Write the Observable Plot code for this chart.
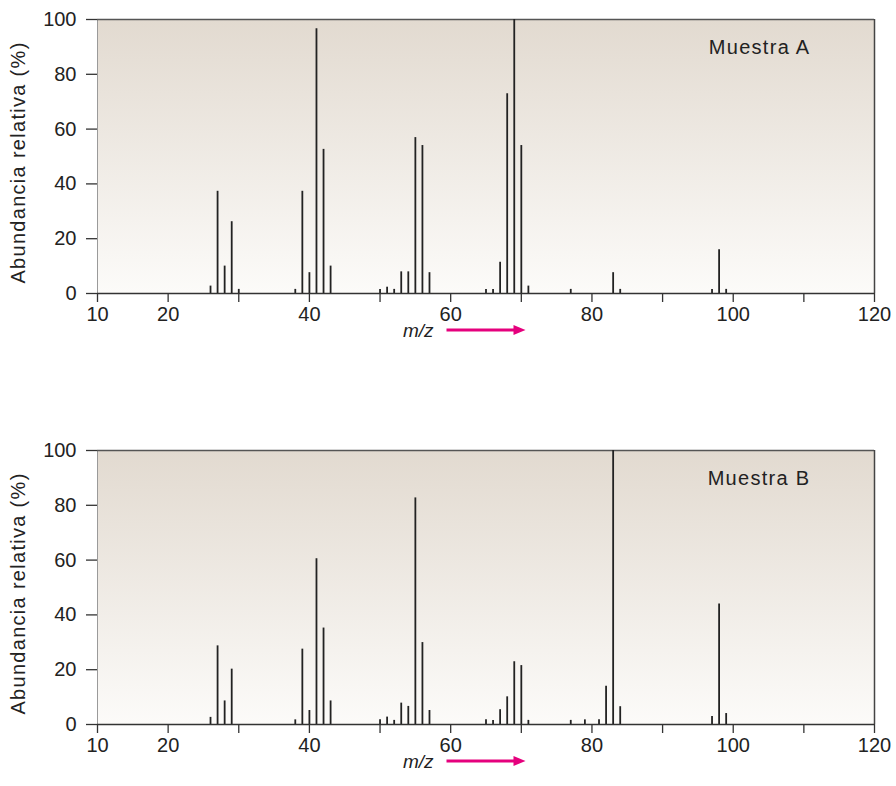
<!DOCTYPE html>
<html><head><meta charset="utf-8">
<script src="https://cdn.jsdelivr.net/npm/d3@7"></script>
<script src="https://cdn.jsdelivr.net/npm/@observablehq/plot@0.6"></script>
<style>
body{margin:0;background:#fff;width:896px;height:786px;position:relative;overflow:hidden;font-family:"Liberation Sans",Arial,sans-serif}
.panel{position:absolute;left:0}
</style></head><body>
<div id="a" class="panel" style="top:0"></div>
<div id="b" class="panel" style="top:431px"></div>
<script>
// Muestra A
const mzA = [26,27,28,29,30,38,39,40,41,42,43,50,51,52,53,54,55,56,57,65,66,67,68,69,70,71,77,83,84,97,98,99];
const abA = [2.7,37.3,10,26.2,1.5,1.5,37.3,7.6,96.6,52.6,10,1.5,2.3,1.5,7.9,7.9,56.9,54,7.6,1.5,1.5,11.4,72.9,100,54,2.7,1.5,7.6,1.5,1.5,16,1.5];
// Muestra B
const mzB = [26,27,28,29,38,39,40,41,42,43,50,51,52,53,54,55,56,57,65,66,67,68,69,70,71,77,79,81,82,83,84,97,98,99];
const abB = [2.6,28.7,8.6,20.2,1.7,27.5,5.1,60.5,35.2,8.6,1.7,2.7,1.5,7.8,6.6,82.7,29.9,5.1,1.7,1.5,5.4,10.1,22.9,21.5,1.5,1.5,1.7,1.7,14,100,6.5,2.9,44,4];

const xTicks = [10,20,30,40,50,60,70,80,90,100,110,120];
const xTickLabels = [10,20,40,60,80,100,120];
const yTicks = [0,20,40,60,80,100];
const yLabel = "Abundancia relativa (%)";
const xLabel = "m/z";
const names = ["Muestra A","Muestra B"];

function panel(id, mz, ab, name, height) {
  const data = mz.map((m, i) => ({mz: m, ab: ab[i]}));
  const gradId = "grad-" + id;
  const defs = () => {
    const s = d3.create("svg:defs");
    const g = s.append("linearGradient").attr("id", gradId)
      .attr("x1", 0).attr("y1", 0).attr("x2", 0).attr("y2", 1);
    g.append("stop").attr("offset", "0%").attr("stop-color", "#e2dad0");
    g.append("stop").attr("offset", "100%").attr("stop-color", "#fcfbf9");
    return s.node();
  };
  const mzMark = (index, scales, values, dims) => {
    const cx = (dims.marginLeft + dims.width - dims.marginRight) / 2;
    const y = dims.height - dims.marginBottom + 37;
    const g = d3.create("svg:g");
    g.append("text").attr("x", cx - 52).attr("y", y).attr("dy", "0.35em")
      .attr("text-anchor", "end").attr("font-style", "italic")
      .attr("font-size", 19).attr("fill", "#222").text(xLabel);
    const x0 = cx - 39, x1 = cx + 40;
    g.append("line").attr("x1", x0).attr("x2", x1 - 10).attr("y1", y).attr("y2", y)
      .attr("stroke", "#e5007d").attr("stroke-width", 3);
    g.append("path").attr("d", `M${x1},${y}L${x1 - 12},${y - 5}L${x1 - 12},${y + 5}Z`)
      .attr("fill", "#e5007d");
    return g.node();
  };
  const svg = Plot.plot({
    width: 896,
    height,
    marginTop: 19,
    marginLeft: 97,
    marginRight: 22,
    marginBottom: height - 19 - 274,
    style: {fontFamily: '"Liberation Sans", Arial, sans-serif', fontSize: "20px", color: "#222", background: "transparent", overflow: "visible"},
    x: {domain: [10, 120]},
    y: {domain: [0, 100]},
    marks: [
      defs,
      Plot.frame({fill: `url(#${gradId})`, stroke: null}),
      Plot.ruleX([10], {stroke: "#9a9a9a", strokeWidth: 1}),
      Plot.ruleY([100], {stroke: "#555", strokeWidth: 1.5}),
      Plot.ruleX([120], {stroke: "#444", strokeWidth: 1.5}),
      Plot.ruleX(data, {x: "mz", y1: 0, y2: "ab", stroke: "#222", strokeWidth: 1.8}),
      Plot.ruleY([0], {stroke: "#333", strokeWidth: 1.5}),
      Plot.axisX({ticks: xTicks, tickSize: 9, tickPadding: 4, strokeWidth: 1.3, stroke: "#333",
        tickFormat: d => xTickLabels.includes(d) ? String(d) : "", label: null, fill: "#222"}),
      Plot.axisY({ticks: yTicks, tickSize: 11, tickPadding: 10, strokeWidth: 1.3, stroke: "#333",
        label: null, fill: "#222"}),
      Plot.text([yLabel], {text: d => d, frameAnchor: "left", rotate: -90, dx: -79, dy: 6,
        textAnchor: "middle", lineAnchor: "middle", fontSize: 20, fill: "#222"}),
      Plot.text([name], {text: d => d, frameAnchor: "top-right", dx: -64, dy: 28,
        textAnchor: "end", lineAnchor: "middle", fontSize: 20, fill: "#222"}),
      mzMark
    ]
  });
  d3.select(svg).selectAll("text").filter(function() {
    const t = this.textContent; return t === yLabel || t === name;
  }).style("letter-spacing", "1.3px");
  return svg;
}

document.getElementById("a").append(panel("a", mzA, abA, names[0], 365));
document.getElementById("b").append(panel("b", mzB, abB, names[1], 355));
</script>
</body></html>
